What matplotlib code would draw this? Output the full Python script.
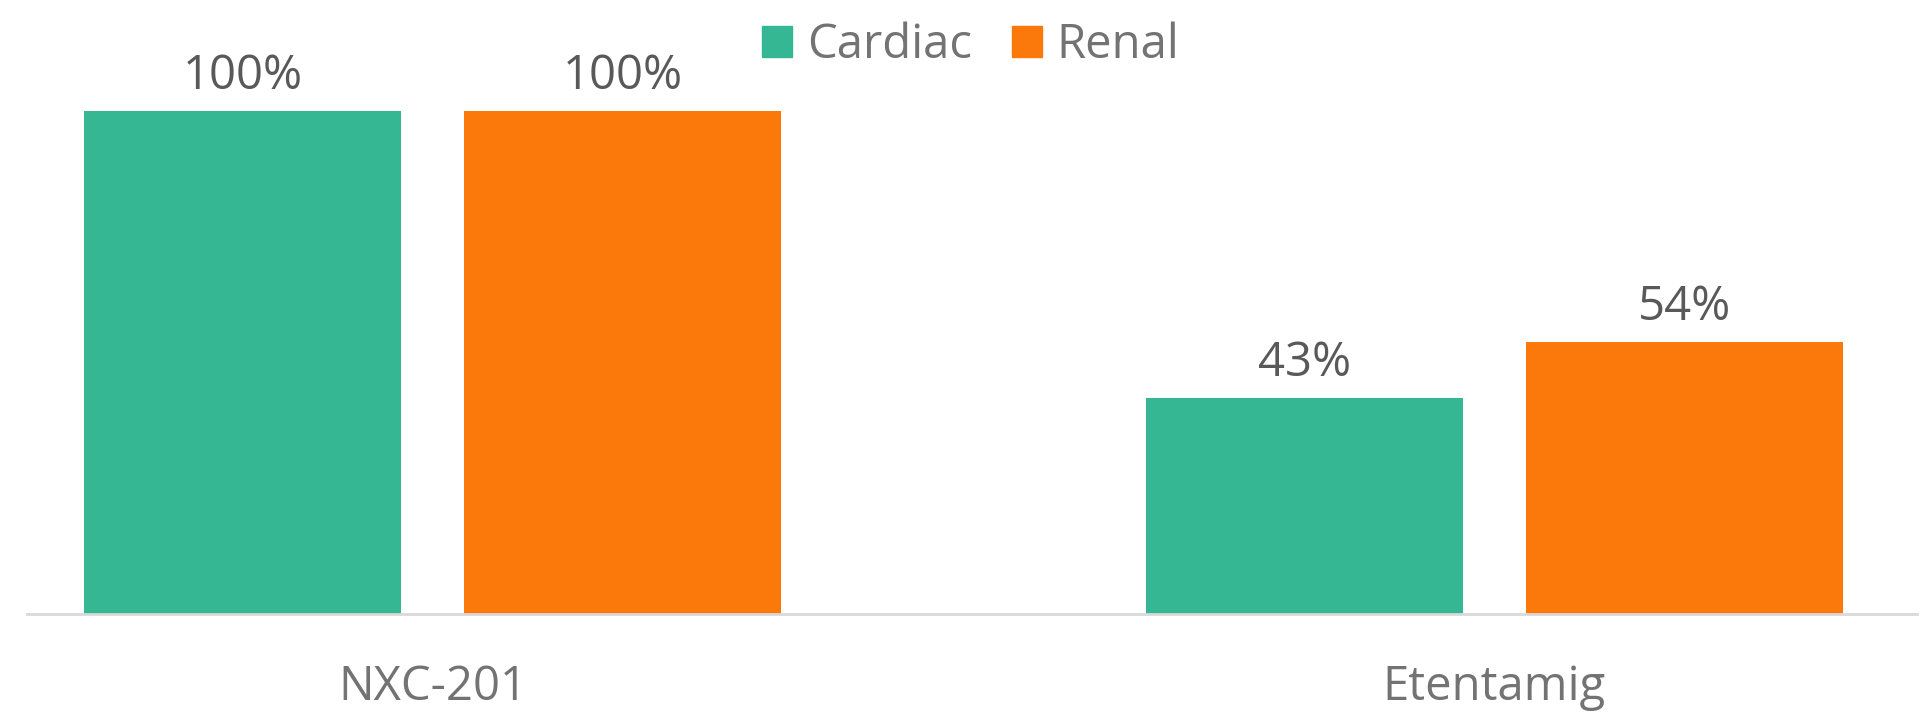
import matplotlib
matplotlib.use("Agg")
import matplotlib.pyplot as plt
from matplotlib.patches import Patch
import numpy as np

categories = ["NXC-201", "Etentamig"]
series_names = ["Cardiac", "Renal"]
cardiac = [100, 43]
renal = [100, 54]
labels_cardiac = ["100%", "43%"]
labels_renal = ["100%", "54%"]

colors = ["#35B794", "#FB790A"]
FONT = "Open Sans"
FS = 34

fig = plt.figure(figsize=(19.22, 7.27), dpi=100)
ax = fig.add_axes([27/1922, 1 - 614/727, (1917-27)/1922, 614/727])

x = np.arange(len(categories))
off = 0.179
w = 0.299
b1 = ax.bar(x - off, cardiac, w, color=colors[0])
b2 = ax.bar(x + off, renal, w, color=colors[1])

for bars, labs in ((b1, labels_cardiac), (b2, labels_renal)):
    for r, lab in zip(bars, labs):
        ax.annotate(lab, (r.get_x() + r.get_width()/2, r.get_height()),
                    xytext=(0, 16), textcoords="offset points",
                    ha="center", va="baseline", fontsize=FS,
                    family=FONT, color="#595959")

ax.set_xlim(-0.382, 1.398)
ax.set_ylim(0, 122.1)
ax.set_xticks(x)
ax.set_xticklabels(categories, fontsize=FS, family=FONT, color="#737373")
ax.tick_params(axis="x", length=0, pad=35.5)
ax.set_yticks([])
for s in ("top", "right", "left"):
    ax.spines[s].set_visible(False)
ax.spines["bottom"].set_color("#D9D9D9")
ax.spines["bottom"].set_linewidth(2)

handles = [Patch(color=c) for c in colors]
fig.legend(handles, series_names, loc="center", bbox_to_anchor=(0.505, 0.938),
           ncol=2, frameon=False, prop={"family": FONT, "size": FS},
           labelcolor="#737373", handlelength=0.64, handleheight=0.64,
           handletextpad=0.3, columnspacing=0.85, borderpad=0)

fig.savefig("out.png", dpi=100)
